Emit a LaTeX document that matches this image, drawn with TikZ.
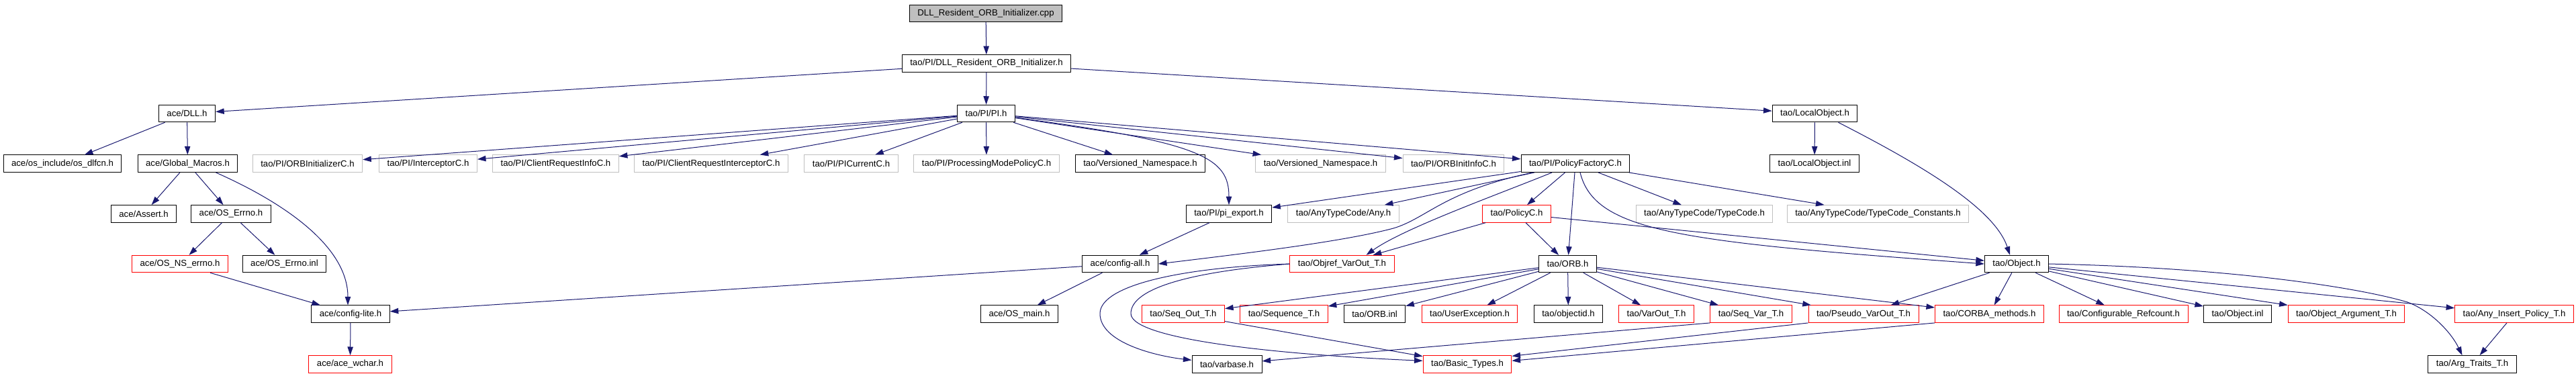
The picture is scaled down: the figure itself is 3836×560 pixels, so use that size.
\documentclass[tikz,border=0pt]{standalone}
\usepackage{fontspec}
\setmainfont{Liberation Sans}
\usetikzlibrary{arrows.meta,calc}
\definecolor{edgeblue}{HTML}{191970}
\definecolor{graybd}{HTML}{BFBFBF}
\begin{document}
\begin{tikzpicture}[x=0.5pt,y=-0.5pt,
  box/.style={draw=black,line width=0.5pt,inner xsep=6pt,inner ysep=0pt,
    minimum height=12.75pt,font=\fontsize{6.6}{8}\selectfont,anchor=center},
  nodoc/.style={box,draw=graybd},
  trunc/.style={box,draw=red},
  edge/.style={draw=edgeblue,line width=0.5pt,-{Triangle[length=6.3pt,width=4.2pt]}},
]
\useasboundingbox (0,0) rectangle (3836,560);
% row 0
\node[box,fill=graybd] (cpp) at (1468,19.8) {DLL\_Resident\_ORB\_Initializer.cpp};
% row 1
\node[box] (dllh) at (1469,94.45) {tao/PI/DLL\_Resident\_ORB\_Initializer.h};
% row 2
\node[box] (acedll) at (278.5,169.1) {ace/DLL.h};
\node[box] (pih) at (1468.5,169.1) {tao/PI/PI.h};
\node[box] (localobj) at (2702.5,169.1) {tao/LocalObject.h};
% row 3
\node[box] (osdlfcn) at (93,243.75) {ace/os\_include/os\_dlfcn.h};
\node[box] (globalmacros) at (279.5,243.75) {ace/Global\_Macros.h};
\node[nodoc] (orbinitc) at (458,243.75) {tao/PI/ORBInitializerC.h};
\node[nodoc] (interceptorc) at (637.5,243.75) {tao/PI/InterceptorC.h};
\node[nodoc] (cri) at (827.5,243.75) {tao/PI/ClientRequestInfoC.h};
\node[nodoc] (crint) at (1059,243.75) {tao/PI/ClientRequestInterceptorC.h};
\node[nodoc] (picurrent) at (1267.5,243.75) {tao/PI/PICurrentC.h};
\node[nodoc] (procmode) at (1469,243.75) {tao/PI/ProcessingModePolicyC.h};
\node[box] (vns1) at (1698,243.75) {tao/Versioned\_Namespace.h};
\node[nodoc] (vns2) at (1966.5,243.75) {tao/Versioned\_Namespace.h};
\node[nodoc] (orbinitinfo) at (2164.5,243.75) {tao/PI/ORBInitInfoC.h};
\node[box] (policyfactory) at (2346,243.75) {tao/PI/PolicyFactoryC.h};
\node[box] (localobjinl) at (2702,243.75) {tao/LocalObject.inl};
% row 4
\node[box] (assert) at (214,318.4) {ace/Assert.h};
\node[box] (oserrno) at (344,318.4) {ace/OS\_Errno.h};
\node[box] (piexport) at (1830,318.4) {tao/PI/pi\_export.h};
\node[nodoc] (anyh) at (2000.5,318.4) {tao/AnyTypeCode/Any.h};
\node[trunc] (policyc) at (2258.5,318.4) {tao/PolicyC.h};
\node[nodoc] (typecode) at (2538,318.4) {tao/AnyTypeCode/TypeCode.h};
\node[nodoc] (tcconst) at (2796.5,318.4) {tao/AnyTypeCode/TypeCode\_Constants.h};
% row 5
\node[trunc] (osnserrno) at (268,393.05) {ace/OS\_NS\_errno.h};
\node[box] (oserrnoinl) at (423.5,393.05) {ace/OS\_Errno.inl};
\node[box] (configall) at (1668,393.05) {ace/config-all.h};
\node[trunc] (objrefvarout) at (1998.5,393.05) {tao/Objref\_VarOut\_T.h};
\node[box] (orbh) at (2334.5,393.05) {tao/ORB.h};
\node[box] (objecth) at (3003,393.05) {tao/Object.h};
% row 6
\node[box] (configlite) at (522,467.7) {ace/config-lite.h};
\node[box] (osmain) at (1518,467.7) {ace/OS\_main.h};
\node[trunc] (seqout) at (1762,467.7) {tao/Seq\_Out\_T.h};
\node[trunc] (sequence) at (1912,467.7) {tao/Sequence\_T.h};
\node[box] (orbinl) at (2047,467.7) {tao/ORB.inl};
\node[trunc] (userexc) at (2188.5,467.7) {tao/UserException.h};
\node[box] (objectid) at (2335.5,467.7) {tao/objectid.h};
\node[trunc] (varout) at (2466.5,467.7) {tao/VarOut\_T.h};
\node[trunc] (seqvar) at (2607.5,467.7) {tao/Seq\_Var\_T.h};
\node[trunc] (pseudovarout) at (2775,467.7) {tao/Pseudo\_VarOut\_T.h};
\node[trunc] (corbamethods) at (2962.5,467.7) {tao/CORBA\_methods.h};
\node[trunc] (configrefcount) at (3162,467.7) {tao/Configurable\_Refcount.h};
\node[box] (objectinl) at (3332,467.7) {tao/Object.inl};
\node[trunc] (objargT) at (3494,467.7) {tao/Object\_Argument\_T.h};
\node[trunc] (anyinsert) at (3744,467.7) {tao/Any\_Insert\_Policy\_T.h};
% row 7
\node[trunc] (acewchar) at (521.5,542.35) {ace/ace\_wchar.h};
\node[box] (varbase) at (1827,542.35) {tao/varbase.h};
\node[trunc] (basictypes) at (2185,542.35) {tao/Basic\_Types.h};
\node[box] (argtraits) at (3681.5,542.35) {tao/Arg\_Traits\_T.h};

% edges
\draw[edge] (cpp) -- (dllh);
\draw[edge] (dllh) -- (acedll);
\draw[edge] (dllh) -- (pih);
\draw[edge] (dllh) -- (localobj);
\draw[edge] (acedll) -- (osdlfcn);
\draw[edge] (acedll) -- (globalmacros);
\draw[edge] (globalmacros) -- (assert);
\draw[edge] (globalmacros) -- (oserrno);
\draw[edge] ($(globalmacros.south)+(42,0)$) .. controls (430,305) and (518,370) .. ($(configlite.north)+(-4,0)$);
\draw[edge] (oserrno) -- (osnserrno);
\draw[edge] (oserrno) -- (oserrnoinl);
\draw[edge] (osnserrno) -- (configlite);
\draw[edge] (configlite) -- (acewchar);
\draw[edge] (configall) -- (configlite);
\draw[edge] (configall) -- (osmain);
\draw[edge] (piexport) -- (configall);
\foreach \tgt in {orbinitc,interceptorc,cri,crint,picurrent,procmode,vns1,vns2,orbinitinfo,policyfactory}
  \draw[edge] (pih) -- (\tgt);
\draw[edge] (pih.-8) .. controls (1790,212) and (1830,235) .. (piexport.north);
\draw[edge] (localobj) -- (localobjinl);
\draw[edge] ($(localobj.south)+(35,0)$) .. controls (2860,245) and (2970,310) .. ($(objecth.north)+(-10,0)$);
\foreach \tgt in {piexport,anyh,policyc,orbh,typecode,tcconst}
  \draw[edge] (policyfactory) -- (\tgt);
\draw[edge] ($(policyfactory.south)+(-64,0)$) .. controls (2150,285) and (2125,325) .. (2075,340)
  .. controls (2000,360) and (1850,378) .. (configall.east);
\draw[edge] ($(policyfactory.south)+(-35,0)$) .. controls (2230,290) and (2090,340) .. ($(objrefvarout.north)+(36,0)$);
\draw[edge] ($(policyfactory.south)+(7,0)$) .. controls (2375,345) and (2500,360) .. (objecth.west);
\draw[edge] (policyc) -- (objrefvarout);
\draw[edge] (policyc) -- (orbh);
\draw[edge] (policyc) -- (objecth);
\foreach \tgt in {seqout,sequence,orbinl,userexc,objectid,varout,seqvar,pseudovarout,corbamethods}
  \draw[edge] (orbh) -- (\tgt);
\foreach \tgt in {pseudovarout,corbamethods,configrefcount,objectinl,objargT,anyinsert}
  \draw[edge] (objecth) -- (\tgt);
\draw[edge] (objecth.east) .. controls (3300,398) and (3500,425) .. (3585,450)
  .. controls (3620,463) and (3650,495) .. ($(argtraits.north)+(-15,0)$);
\draw[edge] (anyinsert) -- (argtraits);
\draw[edge] (seqout) -- (basictypes);
\draw[edge] (objrefvarout.west) .. controls (1760,398) and (1638,425) .. (1638,467)
  .. controls (1638,510) and (1720,530) .. ($(varbase.west)+(0,-6)$);
\draw[edge] (objrefvarout.west) .. controls (1770,405) and (1684,430) .. (1684,467)
  .. controls (1684,505) and (1900,528) .. ($(basictypes.west)+(0,-5)$);
\draw[edge] (seqvar.south west) -- (varbase);
\draw[edge] (pseudovarout.south west) -- ($(basictypes.east)+(0,-12)$);
\draw[edge] (corbamethods.south west) -- ($(basictypes.east)+(0,-5)$);
\end{tikzpicture}
\end{document}
